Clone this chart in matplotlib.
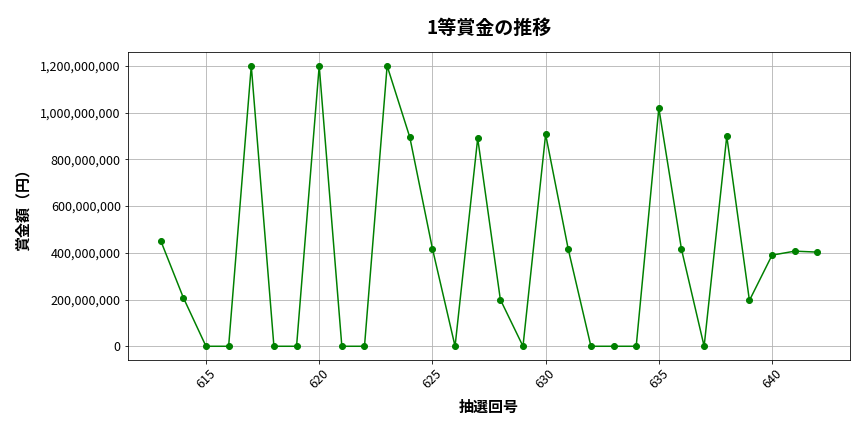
import matplotlib
matplotlib.use("Agg")
import matplotlib.pyplot as plt
from matplotlib.ticker import FuncFormatter

plt.rcParams['font.family'] = ['Noto Sans CJK JP', 'DejaVu Sans']

draws = list(range(613, 643))
prizes = [452e6, 208e6, 0, 0, 1200e6, 0, 0, 1200e6, 0, 0,
          1200e6, 895e6, 418e6, 0, 890e6, 200e6, 0, 907e6, 415e6, 0,
          0, 0, 1019e6, 415e6, 0, 899e6, 196e6, 390e6, 407e6, 403e6]

fig, ax = plt.subplots(figsize=(12, 6), dpi=72)
ax.plot(draws, prizes, marker='o', color='green', linestyle='-', markersize=6)
ax.set_title('1等賞金の推移', fontsize=19, fontweight='bold', pad=18)
ax.set_xlabel('抽選回号', fontsize=15, fontweight='bold', labelpad=8)
ax.set_ylabel('賞金額（円）', fontsize=15, fontweight='bold', labelpad=10)
ax.yaxis.set_major_formatter(FuncFormatter(lambda v, p: f'{int(v):,}'))
ax.grid(True)
plt.setp(ax.get_xticklabels(), rotation=45)
ax.tick_params(labelsize=12.5)
fig.subplots_adjust(left=0.148, right=0.984, top=0.88, bottom=0.166)
fig.savefig('out.png', dpi=72)
